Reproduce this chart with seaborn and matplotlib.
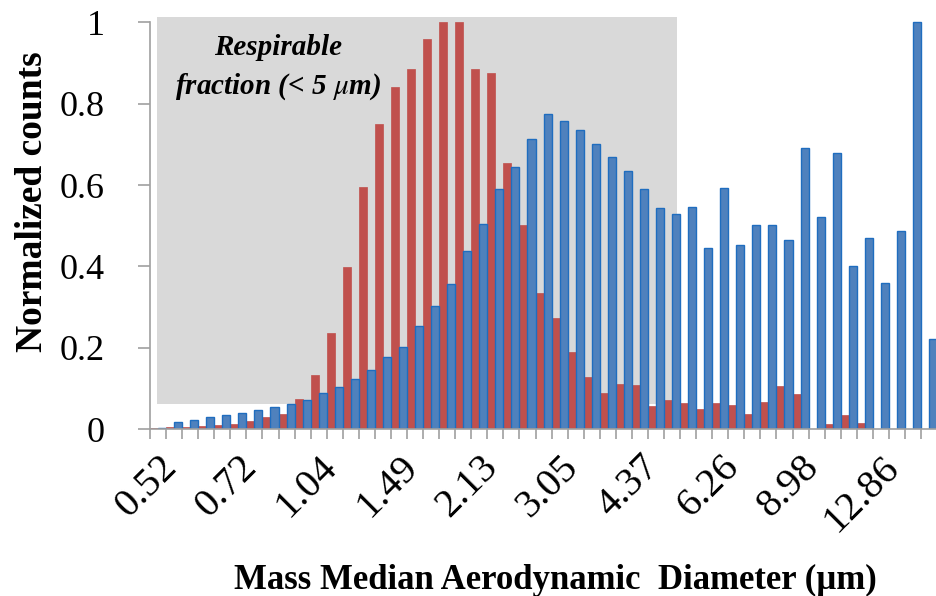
import numpy as np
import pandas as pd
import matplotlib.pyplot as plt
import matplotlib.transforms as mtransforms
import seaborn as sns
from matplotlib.patches import Rectangle

# APS size channels (um), shown with 2 decimals
diameters = [0.523, 0.542, 0.583, 0.626, 0.673, 0.723, 0.777, 0.835, 0.898, 0.965,
             1.037, 1.114, 1.197, 1.286, 1.382, 1.486, 1.596, 1.715, 1.843, 1.981,
             2.129, 2.288, 2.458, 2.642, 2.839, 3.051, 3.278, 3.523, 3.786, 4.068,
             4.371, 4.698, 5.048, 5.425, 5.829, 6.264, 6.732, 7.234, 7.774, 8.354,
             8.977, 9.647, 10.37, 11.14, 11.97, 12.86, 13.82, 14.86, 15.96]

# red series
counts_red = [0.004, 0.006, 0.005, 0.007, 0.010, 0.012, 0.020, 0.029, 0.038, 0.074,
              0.134, 0.236, 0.399, 0.596, 0.749, 0.840, 0.885, 0.958, 1.0, 1.0,
              0.885, 0.875, 0.654, 0.501, 0.336, 0.273, 0.191, 0.129, 0.088, 0.112,
              0.110, 0.057, 0.073, 0.065, 0.049, 0.065, 0.060, 0.037, 0.068, 0.107,
              0.086, 0.0, 0.012, 0.034, 0.015, 0.0, 0.0, 0.0, 0.0]

# blue series
counts_blue = [0.003, 0.017, 0.023, 0.030, 0.034, 0.041, 0.047, 0.054, 0.062, 0.073,
               0.088, 0.104, 0.123, 0.146, 0.178, 0.201, 0.254, 0.304, 0.356, 0.438,
               0.504, 0.590, 0.645, 0.713, 0.774, 0.758, 0.735, 0.701, 0.668, 0.635,
               0.590, 0.543, 0.530, 0.545, 0.446, 0.592, 0.454, 0.503, 0.503, 0.464,
               0.690, 0.522, 0.680, 0.401, 0.469, 0.359, 0.488, 1.0, 0.223]

y_ticks = [0, 0.2, 0.4, 0.6, 0.8, 1]
y_tick_labels = ["0", "0.2", "0.4", "0.6", "0.8", "1"]

labels = ["%.2f" % d for d in diameters]
df = pd.DataFrame({
    "size": labels * 2,
    "count": counts_red + counts_blue,
    "series": ["Sample 1"] * len(labels) + ["Sample 2"] * len(labels),
})

sns.set_theme(style="white")
plt.rcParams["font.family"] = ["Liberation Serif", "DejaVu Serif"]
plt.rcParams["mathtext.fontset"] = "stix"
plt.rcParams["text.color"] = "black"
plt.rcParams["axes.labelcolor"] = "black"

fig = plt.figure(figsize=(9.37, 5.96), dpi=100)
ax = fig.add_axes([0.1601, 0.2797, 0.840, 0.6966])

red = "#C0504D"
blue = "#4F81BD"

sns.barplot(data=df, x="size", y="count", hue="series", order=labels,
            hue_order=["Sample 1", "Sample 2"], palette=[red, blue],
            width=1.0, saturation=1, legend=False, ax=ax, zorder=2)

# outline the blue bars like the original
for p in ax.patches:
    if p.get_facecolor()[2] > 0.6:
        p.set_edgecolor("#1F6DBF")
        p.set_linewidth(1.0)
    else:
        p.set_edgecolor(red)
        p.set_linewidth(0.5)

# respirable fraction shading
ax.add_patch(Rectangle((-0.05, 0.061), 32.37, 0.951, facecolor="#D9D9D9",
                       edgecolor="none", zorder=0, clip_on=False))
ax.text(7.45, 0.888, "Respirable\nfraction (< 5 $\\mu$m)", ha="center", va="center",
        fontsize=21, fontweight="bold", fontstyle="italic", linespacing=1.45)

ax.set_xlim(-0.5, 48.23)
ax.set_ylim(0, 1.02)
ax.spines["left"].set_bounds(0, 1)
for s in ["top", "right"]:
    ax.spines[s].set_visible(False)
for s in ["left", "bottom"]:
    ax.spines[s].set_color("#A0A0A0")
    ax.spines[s].set_linewidth(1.2)

ax.set_yticks(y_ticks)
ax.set_yticklabels(y_tick_labels, fontsize=26)
ax.tick_params(axis="y", length=8.6, width=1.2, color="#A0A0A0", pad=24,
               left=True, labelcolor="black")

pos = list(range(0, len(labels), 5))
ax.set_xticks(pos)
ax.set_xticklabels([labels[i] for i in pos], rotation=45, ha="right", va="top",
                   rotation_mode="anchor", fontsize=29)
shift = mtransforms.ScaledTranslation(-0.03, 0, fig.dpi_scale_trans)
for t in ax.get_xticklabels():
    t.set_transform(t.get_transform() + shift)
ax.set_xticks(np.arange(-0.5, len(labels), 1), minor=True)
ax.tick_params(axis="x", which="major", length=0, pad=14, labelcolor="black")
ax.tick_params(axis="x", which="minor", length=7.2, width=1.2, color="#A0A0A0",
               bottom=True)

ax.set_xlabel("Mass Median Aerodynamic  Diameter (µm)", fontsize=25,
              fontweight="bold")
ax.xaxis.set_label_coords(0.515, -0.325)
ax.set_ylabel("Normalized counts", fontsize=27, fontweight="bold")
ax.yaxis.set_label_coords(-0.127, 0.548)

fig.savefig("out.png", dpi=100)
